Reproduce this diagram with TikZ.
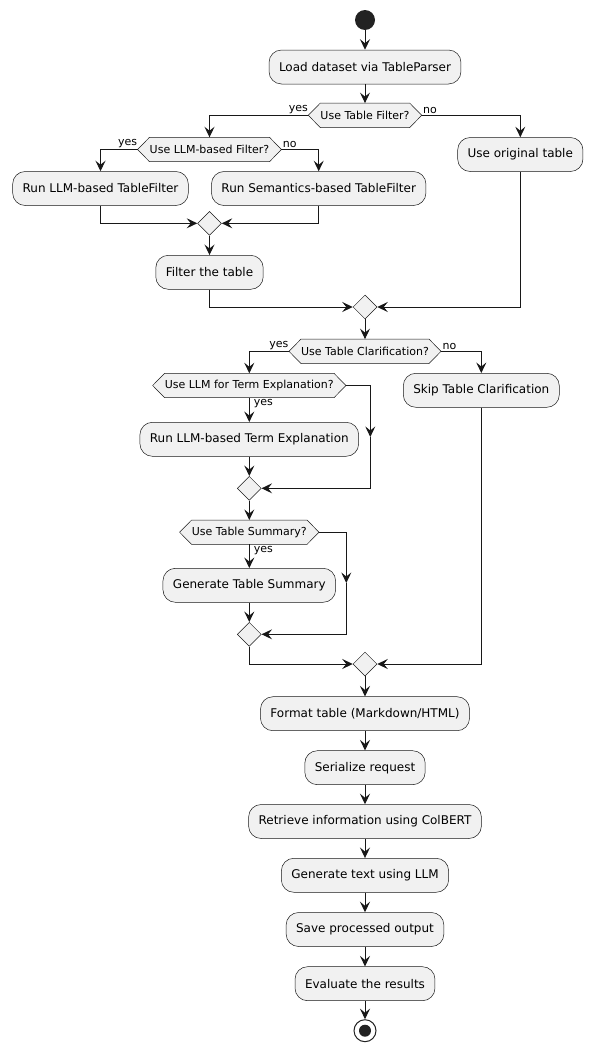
\documentclass[tikz,border=0pt]{standalone}
\usepackage{fontspec}
\setmainfont{DejaVu Sans}
\usetikzlibrary{arrows.meta,shapes.geometric,backgrounds,calc}
\definecolor{ln}{HTML}{181818}
\definecolor{bx}{HTML}{F1F1F1}
\definecolor{dot}{HTML}{222222}
\begin{document}
\begin{tikzpicture}[x=1pt,y=-1pt,
  act/.style={draw=ln, line width=0.5pt, fill=bx, rounded corners=12.5pt, minimum height=34pt, inner xsep=10pt, inner ysep=0pt, font=\fontsize{12}{14}\selectfont},
  hexa/.style={inner xsep=12pt, inner ysep=0pt, minimum height=24pt, font=\fontsize{11}{13}\selectfont},
  merge/.style={diamond, draw=ln, line width=0.5pt, fill=bx, minimum width=24pt, minimum height=24pt, inner sep=0pt},
  arr/.style={draw=ln, line width=1pt, -{Stealth[length=10.5pt,width=10pt,inset=4pt]}},
  wire/.style={draw=ln, line width=1pt},
  lbl/.style={font=\fontsize{11}{13}\selectfont, inner sep=0pt},
]
\useasboundingbox (0,0) rectangle (593,1052);

% start
\node[circle, fill=dot, minimum size=20pt, inner sep=0pt] (start) at (365,20) {};
\node[act] (load) at (365,67) {Load dataset via TableParser};
\node[hexa] (q1) at (365,115.3) {Use Table Filter?};
\node[hexa] (q2) at (209.5,149.5) {Use LLM-based Filter?};
\node[act] (orig) at (520.3,154.5) {Use original table};
\node[act] (llmf) at (100.5,188.5) {Run LLM-based TableFilter};
\node[act] (semf) at (318.7,188.5) {Run Semantics-based TableFilter};
\node[merge] (m1) at (209.5,223.3) {};
\node[act] (filt) at (209.5,272.3) {Filter the table};
\node[merge] (m2) at (365,307) {};
\node[hexa] (q3) at (365,351.3) {Use Table Clarification?};
\node[hexa] (q4) at (249.3,385.5) {Use LLM for Term Explanation?};
\node[act] (skip) at (481.3,390.3) {Skip Table Clarification};
\node[act] (term) at (249.3,439.3) {Run LLM-based Term Explanation};
\node[merge] (m3) at (249.3,488.3) {};
\node[hexa] (q5) at (249.3,532.2) {Use Table Summary?};
\node[act] (summ) at (249.3,585.3) {Generate Table Summary};
\node[merge] (m4) at (249.3,634.3) {};
\node[merge] (m5) at (365,664) {};
\node[act] (fmt) at (365,713.7) {Format table (Markdown/HTML)};
\node[act] (ser) at (365,767.7) {Serialize request};
\node[act] (ret) at (365,821.5) {Retrieve information using ColBERT};
\node[act] (gen) at (365,875.3) {Generate text using LLM};
\node[act] (save) at (365,929.5) {Save processed output};
\node[act] (eval) at (365,983.7) {Evaluate the results};
\node[circle, draw=dot, line width=1pt, fill=white, minimum size=22pt, inner sep=0pt] (stop) at (365,1030.7) {};
\fill[dot] (stop.center) circle (6);

\begin{scope}[on background layer]
\foreach \n in {q1,q2,q3,q4,q5}
  \filldraw[draw=ln, line width=0.5pt, fill=bx] (\n.west) -- ([xshift=12pt]\n.north west) -- ([xshift=-12pt]\n.north east) -- (\n.east) -- ([xshift=-12pt]\n.south east) -- ([xshift=12pt]\n.south west) -- cycle;
\end{scope}

% connectors
\draw[arr] (start) -- (load);
\draw[arr] (load) -- (q1.north);
\draw[arr] (q1.west) -| (q2.north) node[pos=0, lbl, anchor=south east, yshift=1pt] {yes};
\draw[arr] (q1.east) -| (orig.north) node[pos=0, lbl, anchor=south west, xshift=1pt, yshift=1pt] {no};
\draw[arr] (q2.west) -| (llmf.north) node[pos=0, lbl, anchor=south east, yshift=1pt] {yes};
\draw[arr] (q2.east) -| (semf.north) node[pos=0, lbl, anchor=south west, xshift=1pt, yshift=1pt] {no};
\draw[arr] (llmf.south) |- (m1.west);
\draw[arr] (semf.south) |- (m1.east);
\draw[arr] (m1.south) -- (filt.north);
\draw[arr] (filt.south) |- (m2.west);
\draw[arr] (orig.south) |- (m2.east);
\draw[arr] (m2.south) -- (q3.north);
\draw[arr] (q3.west) -| (q4.north) node[pos=0, lbl, anchor=south east, yshift=1pt] {yes};
\draw[arr] (q3.east) -| (skip.north) node[pos=0, lbl, anchor=south west, xshift=1pt, yshift=1pt] {no};
\draw[arr] (q4.south) -- (term.north) node[pos=0, lbl, anchor=north west, xshift=4pt, yshift=-1pt] {yes};
\coordinate (k1) at (370.3,437);
\draw[arr] (q4.east) -| (k1);
\draw[arr] (k1) |- (m3.east);
\draw[arr] (term.south) -- (m3.north);
\draw[arr] (m3.south) -- (q5.north);
\draw[arr] (q5.south) -- (summ.north) node[pos=0, lbl, anchor=north west, xshift=4pt, yshift=-1pt] {yes};
\coordinate (k2) at (346.3,583);
\draw[arr] (q5.east) -| (k2);
\draw[arr] (k2) |- (m4.east);
\draw[arr] (summ.south) -- (m4.north);
\draw[arr] (m4.south) |- (m5.west);
\draw[arr] (skip.south) |- (m5.east);
\draw[arr] (m5.south) -- (fmt.north);
\draw[arr] (fmt) -- (ser);
\draw[arr] (ser) -- (ret);
\draw[arr] (ret) -- (gen);
\draw[arr] (gen) -- (save);
\draw[arr] (save) -- (eval);
\draw[arr] (eval) -- (stop);
\end{tikzpicture}
\end{document}
